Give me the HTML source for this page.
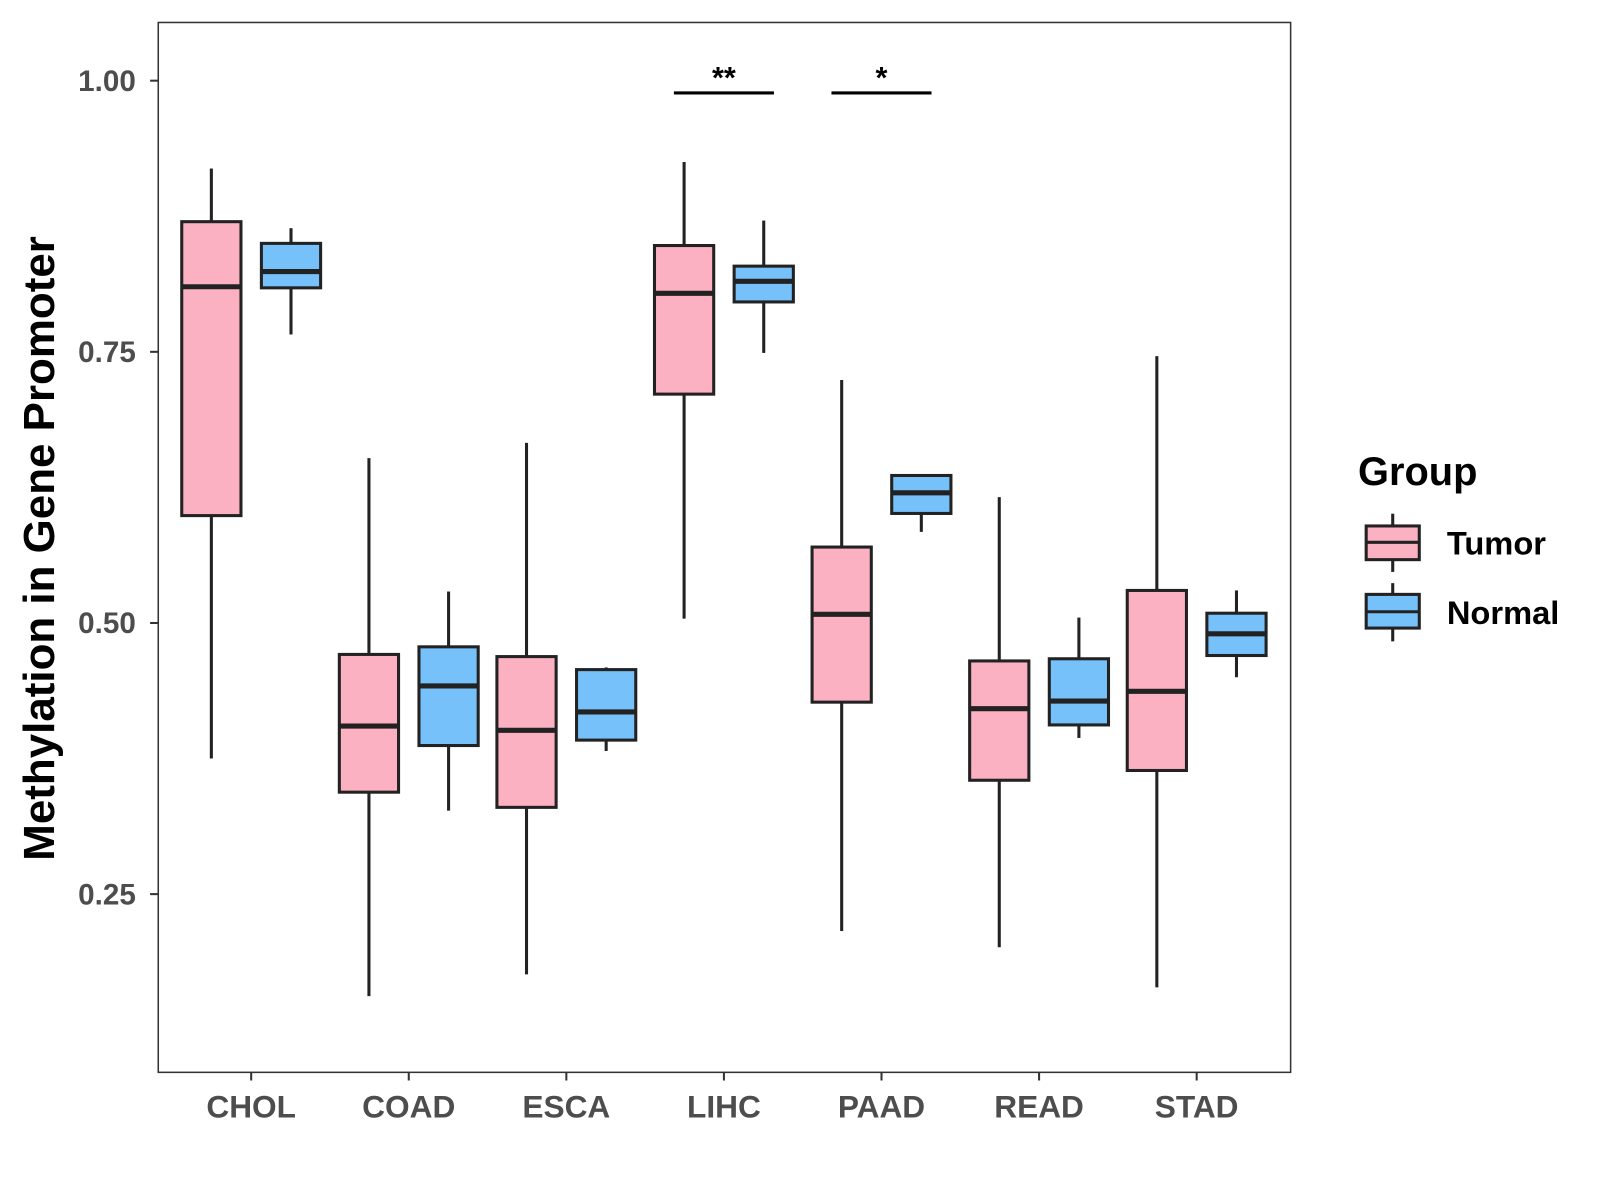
<!DOCTYPE html>
<html><head><meta charset="utf-8"><style>
html,body{margin:0;padding:0;background:#fff;width:1600px;height:1200px;overflow:hidden;}
svg{display:block;font-family:"Liberation Sans",sans-serif;}
</style></head><body>
<svg id="chart" width="1600" height="1200" viewBox="0 0 1567 1175" preserveAspectRatio="none">
  <text transform="translate(53,537) rotate(-90)" text-anchor="middle" font-size="43" font-weight="bold" font-family="Liberation Sans, sans-serif">Methylation in Gene Promoter</text>
  <text x="1330" y="475" font-size="39" font-weight="bold" font-family="Liberation Sans, sans-serif">Group</text>
  <g>
    <line x1="1364" x2="1364" y1="503" y2="560" stroke="#222" stroke-width="3"/>
    <rect x="1338" y="515" width="52" height="33" fill="#fcb1c3" stroke="#222" stroke-width="3"/>
    <line x1="1338" x2="1390" y1="531" y2="531" stroke="#222" stroke-width="3"/>
    <text x="1417" y="543" font-size="32" font-weight="bold" font-family="Liberation Sans, sans-serif">Tumor</text>
  </g>
  <g>
    <line x1="1364" x2="1364" y1="571" y2="628" stroke="#222" stroke-width="3"/>
    <rect x="1338" y="582" width="52" height="33" fill="#76c1fa" stroke="#222" stroke-width="3"/>
    <line x1="1338" x2="1390" y1="599" y2="599" stroke="#222" stroke-width="3"/>
    <text x="1417" y="611" font-size="32" font-weight="bold" font-family="Liberation Sans, sans-serif">Normal</text>
  </g>
</svg>
<script>
const categories=["CHOL","COAD","ESCA","LIHC","PAAD","READ","STAD"];
const tumorLow=[0.375,0.156,0.176,0.504,0.216,0.201,0.164];
const tumorQ1=[0.599,0.344,0.330,0.711,0.427,0.355,0.364];
const tumorMed=[0.810,0.405,0.401,0.804,0.508,0.421,0.437];
const tumorQ3=[0.870,0.471,0.469,0.848,0.570,0.465,0.530];
const tumorHigh=[0.919,0.652,0.666,0.925,0.724,0.616,0.746];
const normalLow=[0.766,0.327,0.382,0.749,0.584,0.394,0.450];
const normalQ1=[0.809,0.387,0.392,0.796,0.601,0.406,0.470];
const normalMed=[0.824,0.442,0.418,0.815,0.620,0.428,0.490];
const normalQ3=[0.850,0.478,0.457,0.829,0.636,0.467,0.509];
const normalHigh=[0.864,0.529,0.459,0.871,0.637,0.505,0.530];
const yTicks=[0.25,0.50,0.75,1.00];
const yTickLabels=["0.25","0.50","0.75","1.00"];
const sigCats=["LIHC","PAAD"];
const sigLabels=["**","*"];

const NS="http://www.w3.org/2000/svg";
const svg=document.getElementById('chart');
const P={l:155,r:1264,t:22,b:1050};
function y(v){return 79+(1-v)*1062;}
function x(i){return 246+i*154.33;}
function el(tag,attrs,parent){const e=document.createElementNS(NS,tag);for(const k in attrs)e.setAttribute(k,attrs[k]);(parent||svg).appendChild(e);return e;}

const frame=el('rect',{x:P.l,y:P.t,width:P.r-P.l,height:P.b-P.t,fill:'none',stroke:'#333',"stroke-width":1.5});



yTicks.forEach((v,i)=>{
  const t=el('line',{x1:P.l-8,x2:P.l,y1:y(v),y2:y(v),stroke:'#333',"stroke-width":2});
  
  
  const tx=el('text',{x:P.l-22,y:y(v)+10,"text-anchor":"end","font-size":29,"font-weight":"bold",fill:'#4d4d4d'});
  tx.textContent=yTickLabels[i];
  
  
});
categories.forEach((c,i)=>{
  const t=el('line',{x1:x(i),x2:x(i),y1:P.b,y2:P.b+8,stroke:'#333',"stroke-width":2});
  
  
  const tx=el('text',{x:x(i),y:1094,"text-anchor":"middle","font-size":31,"font-weight":"bold",fill:'#4d4d4d'});
  tx.textContent=c;
  
  
});

function box(cx,lo,q1,md,q3,hi,fill,name){
  const g=el('g',{});
  
  
  const w=58;
  el('line',{x1:cx,x2:cx,y1:y(hi),y2:y(q3),stroke:'#222',"stroke-width":3},g);
  el('line',{x1:cx,x2:cx,y1:y(q1),y2:y(lo),stroke:'#222',"stroke-width":3},g);
  el('rect',{x:cx-w/2,y:y(q3),width:w,height:y(q1)-y(q3),fill:fill,stroke:'#222',"stroke-width":3},g);
  el('line',{x1:cx-w/2,x2:cx+w/2,y1:y(md),y2:y(md),stroke:'#222',"stroke-width":5},g);
}
categories.forEach((c,i)=>{
  box(x(i)-39,tumorLow[i],tumorQ1[i],tumorMed[i],tumorQ3[i],tumorHigh[i],'#fcb1c3','box-tumor-'+c.toLowerCase());
  box(x(i)+39,normalLow[i],normalQ1[i],normalMed[i],normalQ3[i],normalHigh[i],'#76c1fa','box-normal-'+c.toLowerCase());
});
sigCats.forEach((c,k)=>{
  const i=categories.indexOf(c);
  const l=el('line',{x1:x(i)-49,x2:x(i)+49,y1:91,y2:91,stroke:'#000',"stroke-width":3});
  
  
  const t=el('text',{x:x(i),y:86,"text-anchor":"middle","font-size":30,"font-weight":"bold",fill:'#000'});
  t.textContent=sigLabels[k];
  
  
});
</script>
</body></html>
